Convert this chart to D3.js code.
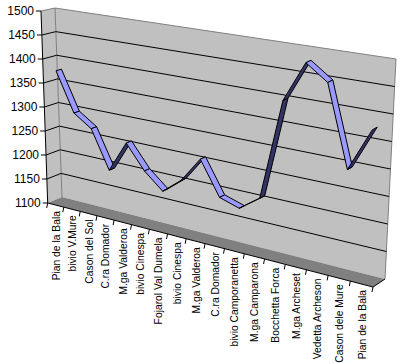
<!DOCTYPE html>
<html>
<head>
<meta charset="utf-8">
<script src="https://cdn.jsdelivr.net/npm/d3@7"></script>
<style>
	html, body { margin: 0; padding: 0; background: #fff; }
	svg { display: block; }
	text { font-family: "Liberation Sans", Arial, sans-serif; font-size: 12px; fill: #000; }
	.cat text { font-size: 10.3px; }
</style>
</head>
<body>
<div id="chart"></div>
<script>
	var categories = ["Pian de la Bala", "bivio V.Mure", "Cason del Sol", "C.ra Domador", "M.ga Valderoa",
		"bivio Cinespa", "Fojarol Val Dumela", "bivio Cinespa", "M.ga Valderoa", "C.ra Domador",
		"bivio Camporanetta", "M.ga Camparona", "Bocchetta Forca", "M.ga Archeset", "Vedetta Archeson",
		"Cason dele Mure", "Pian de la Bala"];
	var quota = [1376, 1295, 1270, 1193, 1256, 1208, 1176, 1206, 1256, 1190, 1178, 1206, 1400, 1478, 1448, 1295, 1376];
	var valueTicks = [1100, 1150, 1200, 1250, 1300, 1350, 1400, 1450, 1500];

	var wd = 401;
	var ht = 363;

	var svg = d3.select("#chart").append("svg")
		.attr("width", wd)
		.attr("height", ht);

	// corners of the 3d box as seen on screen: f = front plane, b = back wall
	var box = {
		f: { tl: [41, 11], bl: [47.7, 203], tr: [383, 66], br: [373, 287] },
		b: { tl: [55, 8], bl: [62, 197], tr: [396, 59], br: [385, 279] }
	};

	var u = d3.scaleLinear().domain([0, categories.length]).range([0, 1]);
	var v = d3.scaleLinear().domain([1100, 1500]).range([0, 1]);
	var lerp = d3.interpolateNumber;

	// foreshortening along the x axis
	function warp(t) {
		return t / (t + 1.2 * (1 - t));
	}

	function planePoint(p, a, b) {
		var bottom = [lerp(p.bl[0], p.br[0])(a), lerp(p.bl[1], p.br[1])(a)];
		var top = [lerp(p.tl[0], p.tr[0])(a), lerp(p.tl[1], p.tr[1])(a)];
		return [lerp(bottom[0], top[0])(b), lerp(bottom[1], top[1])(b)];
	}

	// i = position on category axis, val = value, d = depth (0 front, 1 back)
	function project(i, val, d) {
		var a = warp(u(i));
		var b = v(val);
		var f = planePoint(box.f, a, b);
		var k = planePoint(box.b, a, b);
		return [lerp(f[0], k[0])(d), lerp(f[1], k[1])(d)];
	}

	function poly(pts) {
		return "M" + pts.map(function(p) { return p[0] + "," + p[1]; }).join("L") + "Z";
	}

	var nCat = categories.length;

	// walls
	svg.append("path")
		.attr("d", poly([project(0, 1500, 0), project(0, 1500, 1), project(0, 1100, 1), project(0, 1100, 0)]))
		.attr("fill", "#c0c0c0");
	svg.append("path")
		.attr("d", poly([project(0, 1500, 1), project(nCat, 1500, 1), project(nCat, 1100, 1), project(0, 1100, 1)]))
		.attr("fill", "#c0c0c0");
	svg.append("path")
		.attr("d", poly([project(0, 1100, 0), project(0, 1100, 1), project(nCat, 1100, 1), project(nCat, 1100, 0)]))
		.attr("fill", "#808080");

	// wall edges
	var edges = [
		[project(0, 1500, 0), project(0, 1500, 1), project(nCat, 1500, 1), project(nCat, 1100, 1)],
		[project(0, 1500, 1), project(0, 1100, 1)]
	];
	svg.append("g").selectAll("path").data(edges).join("path")
		.attr("d", function(d) { return d3.line()(d); })
		.attr("fill", "none")
		.attr("stroke", "#808080");

	// gridlines
	svg.append("g").selectAll("path").data(valueTicks.filter(function(t) { return t > 1100 && t < 1500; })).join("path")
		.attr("d", function(t) { return d3.line()([project(0, t, 0), project(0, t, 1), project(nCat, t, 1)]); })
		.attr("fill", "none")
		.attr("stroke", "#000");

	// floor right edge and front axis
	svg.append("path")
		.attr("d", d3.line()([project(nCat, 1100, 1), project(nCat, 1100, 0), project(0, 1100, 0), project(0, 1500, 0)]))
		.attr("fill", "none")
		.attr("stroke", "#000");

	// ribbon
	var d0 = 0.33, d1 = 0.72;
	var segments = d3.pairs(quota.map(function(q, i) { return { i: i + 0.5, q: q }; }));
	svg.append("g").selectAll("path").data(segments).join("path")
		.attr("d", function(s) {
			return poly([project(s[0].i, s[0].q, d0), project(s[0].i, s[0].q, d1),
				project(s[1].i, s[1].q, d1), project(s[1].i, s[1].q, d0)]);
		})
		.attr("fill", function(s) {
			var a = project(s[0].i, s[0].q, d0), b = project(s[1].i, s[1].q, d0), c = project(s[0].i, s[0].q, d1);
			var cross = (b[0] - a[0]) * (c[1] - a[1]) - (b[1] - a[1]) * (c[0] - a[0]);
			return cross < 0 ? "#9999ff" : "#333366";
		})
		.attr("stroke", "#000")
		.attr("stroke-linejoin", "round");

	// value axis
	var yAxis = svg.append("g");
	yAxis.selectAll("line").data(valueTicks).join("line")
		.attr("x1", function(t) { return project(0, t, 0)[0] - 5; })
		.attr("x2", function(t) { return project(0, t, 0)[0]; })
		.attr("y1", function(t) { return project(0, t, 0)[1]; })
		.attr("y2", function(t) { return project(0, t, 0)[1]; })
		.attr("stroke", "#000");
	yAxis.selectAll("text").data(valueTicks).join("text")
		.attr("x", function(t) { return project(0, t, 0)[0] - 7; })
		.attr("y", function(t) { return project(0, t, 0)[1] + 4; })
		.attr("text-anchor", "end")
		.text(function(t) { return t; });

	// category axis
	var xAxis = svg.append("g").attr("class", "cat");
	xAxis.selectAll("line").data(d3.range(nCat + 1)).join("line")
		.attr("x1", function(i) { return project(i, 1100, 0)[0]; })
		.attr("x2", function(i) { return project(i, 1100, 0)[0] - 1; })
		.attr("y1", function(i) { return project(i, 1100, 0)[1]; })
		.attr("y2", function(i) { return project(i, 1100, 0)[1] + 5; })
		.attr("stroke", "#000");
	xAxis.selectAll("text").data(categories).join("text")
		.attr("transform", function(c, i) {
			var p = project(i + 0.5, 1100, 0);
			return "translate(" + (p[0] + 4) + "," + (p[1] + 6) + ")rotate(-90)";
		})
		.attr("text-anchor", "end")
		.text(function(c) { return c; });
</script>
</body>
</html>
